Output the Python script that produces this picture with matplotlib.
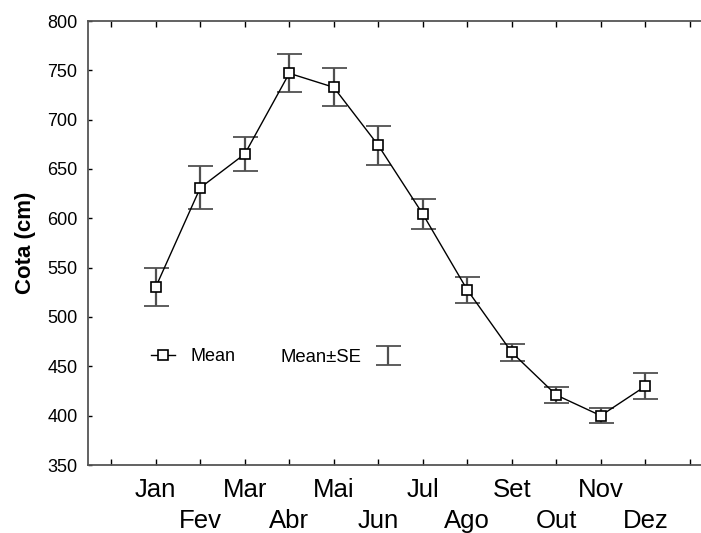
import matplotlib
matplotlib.use("Agg")
import matplotlib.pyplot as plt

plt.rcParams['font.family'] = ['Liberation Sans', 'DejaVu Sans']

months = ["Jan", "Fev", "Mar", "Abr", "Mai", "Jun", "Jul", "Ago", "Set", "Out", "Nov", "Dez"]
mean_cota = [530.4, 631.0, 665.2, 747.0, 732.8, 674.0, 604.4, 527.5, 464.2, 420.9, 400.0, 429.8]
se_cota = [19.6, 22.0, 17.0, 19.4, 19.3, 19.5, 15.2, 13.3, 8.6, 7.8, 7.4, 13.2]
yticks = [350, 400, 450, 500, 550, 600, 650, 700, 750, 800]

xpos = list(range(1, len(months) + 1))

fig = plt.figure(figsize=(7.01, 5.33), dpi=100)
ax = fig.add_axes([88 / 701, 68 / 533, (704 - 88) / 701, 444 / 533])

eb = ax.errorbar(xpos, mean_cota, yerr=se_cota, fmt='none', ecolor='#505050',
                 elinewidth=1.6, capsize=9, capthick=1.3, zorder=2)
for cap in eb[1]:
    cap.set_color('#303030')
line, = ax.plot(xpos, mean_cota, color='black', lw=1.0, marker='s', markersize=7,
                markerfacecolor='white', markeredgecolor='black', markeredgewidth=1.2, zorder=3)

ax.set_xlim(-0.523, 13.32)
ax.set_ylim(350, 800)
ax.set_yticks(yticks)
ax.set_yticklabels([str(v) for v in yticks])

ticks_x = [0] + xpos + [len(months) + 1]
ax.set_xticks(ticks_x)
ax.set_xticklabels([''] + months + [''])

ax.tick_params(axis='y', direction='in', length=3, width=1, labelsize=13, pad=7.5, color='black')
ax.tick_params(axis='x', direction='in', length=4, width=1, labelsize=18.5, top=True, color='black')
for i, t in enumerate(ax.xaxis.get_major_ticks()):
    if i % 2 == 0:
        t.set_pad(31.5)
    else:
        t.set_pad(9.5)

for s in ax.spines.values():
    s.set_color('#555555')
    s.set_linewidth(1.3)

ax.set_ylabel('Cota (cm)', fontsize=16, fontweight='bold', labelpad=8)

leg1 = ax.legend([line], ['Mean'], loc='center left', bbox_to_anchor=(0.103, 0.244),
                 frameon=False, fontsize=13, handlelength=1.3, handletextpad=0.85,
                 borderaxespad=0, borderpad=0)
ax.add_artist(leg1)
ax.legend([eb], ['Mean±SE'], loc='center left', bbox_to_anchor=(0.313, 0.242),
          frameon=False, fontsize=13.3, handlelength=1.6, handletextpad=0.6,
          markerfirst=False, borderaxespad=0, borderpad=0)

fig.savefig('out.png', dpi=100)
